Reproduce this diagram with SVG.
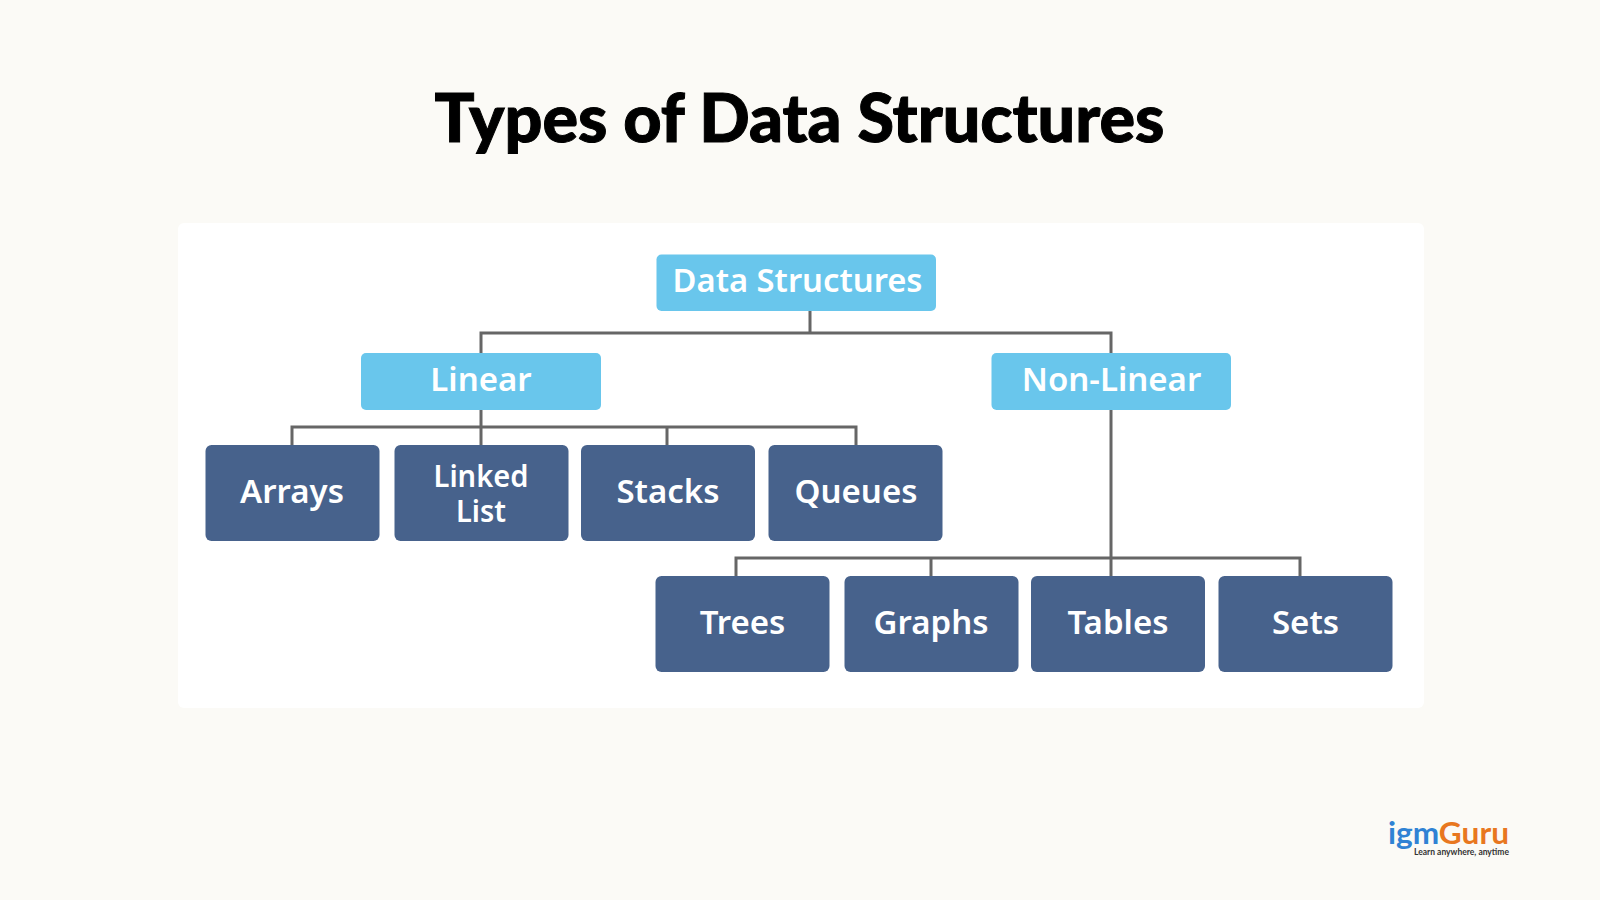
<svg xmlns="http://www.w3.org/2000/svg" width="1600" height="900" viewBox="0 0 1600 900">
<style>
.lbl{font-family:"Noto Sans","Open Sans",sans-serif;font-weight:600;font-size:33px;fill:#fff;text-anchor:middle}
.top{fill:#69c6ec}
.leaf{fill:#47628c}
.conn{fill:none;stroke:#666;stroke-width:3}
</style>
<rect width="1600" height="900" fill="#fbfaf6"/>
<rect x="178" y="223" width="1246" height="485" rx="6" fill="#fff"/>
<text x="799.5" y="142" text-anchor="middle" font-family="Lato,'Liberation Sans',sans-serif" font-weight="900" font-size="66" fill="#000" stroke="#000" stroke-width="1" textLength="730" lengthAdjust="spacingAndGlyphs">Types of Data Structures</text>
<g id="connectors" class="conn">
<path d="M810 311V333M481 353V333H1111V353"/>
<path d="M481 410V445M292 445V427H856V445M667 427V445"/>
<path d="M1111 410V576M736 576V558H1300V576M931 558V576"/>
</g>
<g id="data-structures"><rect class="top" x="656.500" y="254.500" width="279.500" height="56.500" rx="5"/><text class="lbl" x="797.500" y="292" textLength="250" lengthAdjust="spacingAndGlyphs">Data Structures</text></g>
<g id="linear"><rect class="top" x="361" y="353" width="240" height="57" rx="5"/><text class="lbl" x="481" y="391">Linear</text></g>
<g id="non-linear"><rect class="top" x="991.500" y="353" width="239.500" height="57" rx="5"/><text class="lbl" x="1111.500" y="391">Non-Linear</text></g>
<g id="arrays"><rect class="leaf" x="205.500" y="445" width="174" height="96" rx="6"/><text class="lbl" x="292" y="503">Arrays</text></g>
<g id="linked-list"><rect class="leaf" x="394.500" y="445" width="174" height="96" rx="6"/><text class="lbl" x="481" y="487" style="font-size:30px" textLength="95" lengthAdjust="spacingAndGlyphs">Linked</text><text class="lbl" x="481" y="522" style="font-size:30px" textLength="50" lengthAdjust="spacingAndGlyphs">List</text></g>
<g id="stacks"><rect class="leaf" x="581" y="445" width="174" height="96" rx="6"/><text class="lbl" x="668" y="503">Stacks</text></g>
<g id="queues"><rect class="leaf" x="768.500" y="445" width="174" height="96" rx="6"/><text class="lbl" x="856" y="503">Queues</text></g>
<g id="trees"><rect class="leaf" x="655.500" y="576" width="174" height="96" rx="6"/><text class="lbl" x="742.500" y="634">Trees</text></g>
<g id="graphs"><rect class="leaf" x="844.500" y="576" width="174" height="96" rx="6"/><text class="lbl" x="931" y="634">Graphs</text></g>
<g id="tables"><rect class="leaf" x="1031" y="576" width="174" height="96" rx="6"/><text class="lbl" x="1118" y="634">Tables</text></g>
<g id="sets"><rect class="leaf" x="1218.500" y="576" width="174" height="96" rx="6"/><text class="lbl" x="1305.500" y="634">Sets</text></g>
<g id="logo">
<text x="1388" y="844" font-family="Lato,sans-serif" font-weight="700" font-size="30" textLength="121" lengthAdjust="spacingAndGlyphs"><tspan fill="#2f82d4">igm</tspan><tspan fill="#e8771f">Guru</tspan></text>
<text x="1414" y="855" font-family="Lato,sans-serif" font-weight="700" font-size="8.500" fill="#333" textLength="95" lengthAdjust="spacingAndGlyphs">Learn anywhere, anytime</text>
</g>
</svg>
